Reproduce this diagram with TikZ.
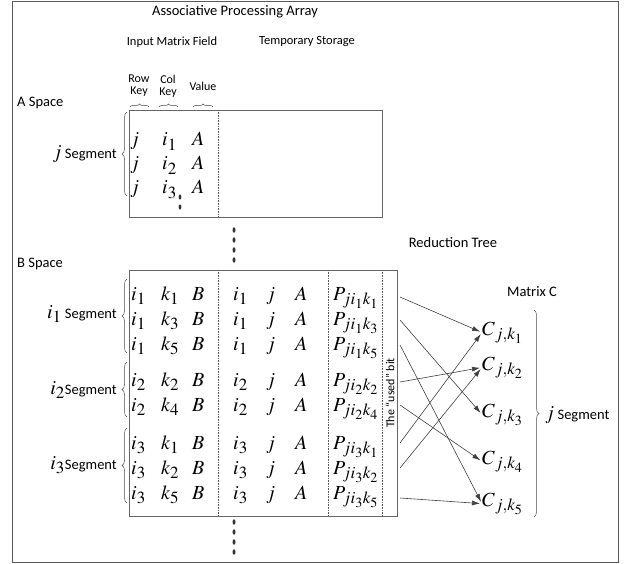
\documentclass[tikz,border=0pt]{standalone}
\usepackage{mathptmx}
\usepackage[no-math]{fontspec}
\setmainfont{Carlito}
\DeclareMathSizes{20}{20}{17}{14}
\usetikzlibrary{decorations.pathreplacing,arrows.meta}

\begin{document}
\begin{tikzpicture}[x=1pt,y=-1pt,
  lbl/.style={font=\fontsize{14.5}{16}\selectfont, inner sep=0pt},
  head/.style={font=\fontsize{12.5}{14}\selectfont, inner sep=0pt},
  keyhead/.style={font=\fontsize{12}{14}\selectfont, inner sep=0pt, align=center},
  ent/.style={font=\fontsize{20}{22}\selectfont, inner sep=0pt, anchor=base west},
  boxline/.style={draw=black!60, line width=0.9pt},
  divider/.style={draw=black!65, densely dotted, line width=0.6pt},
  brc/.style={draw=black!70, line width=0.5pt, decorate, decoration={brace, amplitude=5pt}},
  hbrc/.style={draw=black!70, line width=0.5pt, decorate, decoration={brace, amplitude=3pt}},
  arr/.style={draw=black!75, line width=0.6pt, -{Latex[length=8pt,width=5pt]}, shorten >=2pt},
  dot/.style={fill=black!80}
]
\useasboundingbox (0,0) rectangle (637,564);

% outer frame
\draw[draw=black!65, line width=1pt] (12,2) rectangle (618,562);

% titles
\node[lbl] (title) at (235,12) {Associative Processing Array};
\node[head] (imf) at (172,42) {Input Matrix Field};
\node[head] (tmp) at (307,42) {Temporary Storage};
\node[keyhead] (rowkey) at (139,86) {Row\\[-2pt]Key};
\node[keyhead] (colkey) at (168,86) {Col\\[-2pt]Key};
\node[keyhead] (value) at (203,86) {Value};
\draw[hbrc] (130,107) -- (149,107);
\draw[hbrc] (159,107) -- (178,107);
\draw[hbrc] (193,107) -- (213,107);

% A space
\node[lbl, anchor=west] (aspace) at (17,103) {A Space};
\draw[boxline] (129,110) rectangle (382,217);
\draw[divider] (218,110) -- (218,217);
\foreach \y/\s in {146/1,170/2,194/3}{
  \node[ent] (aj\s) at (130,\y) {$j$};
  \node[ent] (ai\s) at (162,\y) {$i_\s$};
  \node[ent] (aa\s) at (192,\y) {$A$};
}
\fill[dot] (180,197) ellipse (1.4 and 2.6);
\fill[dot] (180,207) ellipse (1.4 and 2.6);
\draw[brc] (127,196) -- (127,112);
\node[lbl, anchor=east] (jseg) at (117,154) {\fontsize{20}{22}\selectfont$j$\,\fontsize{14.5}{16}\selectfont Segment};

% dots between spaces
\foreach \y in {230,240,250,260} \fill[dot] (234,\y) ellipse (1.5 and 2.7);

% B space
\node[lbl, anchor=west] (bspace) at (17,264) {B Space};
\draw[boxline] (129,270) rectangle (397,516);
\draw[divider] (218,270) -- (218,516);
\draw[divider] (328,270) -- (328,516);
\draw[divider] (382,270) -- (382,516);
\node[font=\fontsize{12}{14}\selectfont, rotate=90, inner sep=0pt] (used) at (390,393) {The “used” bit};

\foreach \y/\a/\b/\n in {300/1/1/r1,325/1/3/r2,350/1/5/r3,386/2/2/r4,411/2/4/r5,449/3/1/r6,474/3/2/r7,499/3/5/r8}{
  \node[ent] (bi\n) at (131,\y) {$i_\a$};
  \node[ent] (bk\n) at (161,\y) {$k_\b$};
  \node[ent] (bb\n) at (192,\y) {$B$};
  \node[ent] (ti\n) at (233,\y) {$i_\a$};
  \node[ent] (tj\n) at (266,\y) {$j$};
  \node[ent] (ta\n) at (295,\y) {$A$};
  \node[ent] (p\n) at (333,\y) {$P_{ji_\a k_\b}$};
}

% segment braces
\draw[brc] (127,353) -- (127,279);
\node[lbl, anchor=east] (seg1) at (117,314) {\fontsize{20}{22}\selectfont$i_1$\,\fontsize{14.5}{16}\selectfont Segment};
\draw[brc] (127,417) -- (127,362);
\node[lbl, anchor=east] (seg2) at (117,390) {\fontsize{20}{22}\selectfont$i_2$\fontsize{14.5}{16}\selectfont Segment};
\draw[brc] (127,503) -- (127,428);
\node[lbl, anchor=east] (seg3) at (117,465) {\fontsize{20}{22}\selectfont$i_3$\fontsize{14.5}{16}\selectfont Segment};

% dots below B space
\foreach \y in {522,532,542,552} \fill[dot] (234,\y) ellipse (1.5 and 2.7);

% reduction tree and matrix C
\node[lbl] (rtree) at (453,243) {Reduction Tree};
\node[lbl] (matc) at (532,292) {Matrix C};

\foreach \y/\k in {335/1,370/2,417/3,464/4,506/5}{
  \node[font=\fontsize{20}{22}\selectfont, inner sep=0pt, anchor=base west] (c\k) at (482,\y) {$C\rlap{$_{j,k_\k}$}$};
}
\draw[brc] (534,310) -- (534,517);
\node[lbl, anchor=west] (cseg) at (545,415) {\fontsize{20}{22}\selectfont$j$\,\fontsize{14.5}{16}\selectfont Segment};

% connectors from partial products to result entries
\foreach \y/\n in {297/r1,320/r2,345/r3,382/r4,405/r5,443/r6,468/r7,498/r8}
  \coordinate (o\n) at (400,\y);
\draw[arr] (or1) -- (c1.west);
\draw[arr] (or2) -- (c3.west);
\draw[arr] (or3) -- (c5.west);
\draw[arr] (or4) -- (c2.west);
\draw[arr] (or5) -- (c4.west);
\draw[arr] (or6) -- (c1.west);
\draw[arr] (or7) -- (c2.west);
\draw[arr] (or8) -- (c5.west);
\end{tikzpicture}
\end{document}
